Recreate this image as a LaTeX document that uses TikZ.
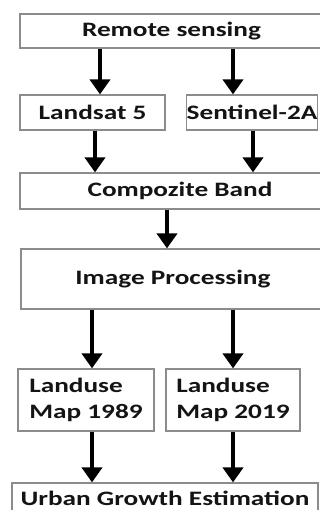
\documentclass[tikz,border=0pt]{standalone}
\usepackage{fontspec}
\setmainfont{Carlito}[FakeStretch=1.33]
\usetikzlibrary{arrows.meta}
\definecolor{boxgray}{RGB}{140,140,140}
\definecolor{inkblack}{RGB}{20,20,20}

\begin{document}
\begin{tikzpicture}[x=1pt,y=-1pt,
    box/.style={draw=boxgray,line width=1.2pt,fill=white,text=inkblack,
      font=\fontsize{20.5}{26}\selectfont\bfseries,inner sep=0pt},
    flow/.style={line width=4.5pt,-{Triangle[width=20pt,length=15pt]}}]
  \useasboundingbox (0,0) rectangle (320,510);
  \clip (0,0) rectangle (320,510);

  \node[box,minimum width=303pt,minimum height=34pt] (remote) at (171.5,31) {Remote sensing};
  \node[box,minimum width=145pt,minimum height=35pt] (landsat) at (92.5,112.5) {Landsat 5};
  \node[box,minimum width=128pt,minimum height=35pt] (sentinel) at (252,112.5) {Sentinel-2A};
  \node[box,minimum width=320pt,minimum height=36pt] (compozite) at (180,191) {Compozite Band};
  \node[box,minimum width=304pt,minimum height=60pt] (improc) at (173,279) {Image Processing};
  \node[box,minimum width=136pt,minimum height=62pt,align=left] (lu89) at (86,400) {Landuse\\Map 1989};
  \node[box,minimum width=134pt,minimum height=62pt,align=left] (lu19) at (233,400) {Landuse\\Map 2019};
  \node[box,minimum width=306pt,minimum height=30pt] (urban) at (165,498) {Urban Growth Estimation};

  \begin{scope}[flow]
      % sensors:
      \draw (remote.south -| 100,0) -- (landsat.north -| 100,0);
      \draw (remote.south -| 233,0) -- (sentinel.north -| 233,0);
      \draw (landsat.south -| 95,0) -- (compozite.north -| 95,0);
      \draw (sentinel.south -| 253,0) -- (compozite.north -| 253,0);
      % processing:
      \draw (compozite.south -| 167,0) -- (improc.north -| 167,0);
      \draw (improc.south -| 92,0) -- (lu89.north -| 92,0);
      \draw (improc.south -| 233,0) -- (lu19.north -| 233,0);
      % change:
      \draw (lu89.south -| 92,0) -- (urban.north -| 92,0);
      \draw (lu19.south -| 233,0) -- (urban.north -| 233,0);
  \end{scope}
\end{tikzpicture}
\end{document}
